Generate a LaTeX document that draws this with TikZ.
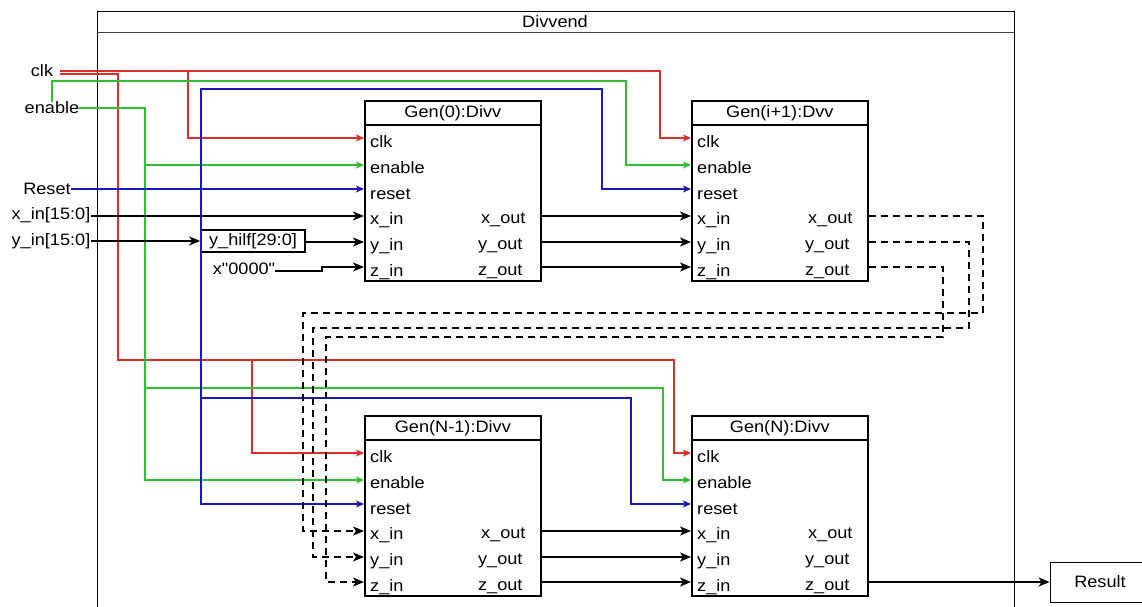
\documentclass[tikz,border=0pt]{standalone}
\usepackage{fontspec}
\setmainfont{Liberation Sans}[FakeStretch=1.1]
\newfontfamily\rawfont{Liberation Sans}[FakeStretch=1.1, Ligatures=TeXOff]
\usetikzlibrary{arrows.meta}
\definecolor{wred}{RGB}{220,45,45}
\definecolor{wgreen}{RGB}{50,190,50}
\definecolor{wblue}{RGB}{25,25,185}
\newcommand\genblock[4]{%
  \node[blk, minimum width=176pt, minimum height=180pt, anchor=north west, inner sep=0pt] (#1) at (#2,#3) {};
  \draw[line width=1.7pt] ([yshift=-25pt]#1.north west) -- ([yshift=-25pt]#1.north east);
  \node[txt] (#1t) at ([yshift=-13pt]#1.north) {#4};
  \coordinate (#1-clk) at ([yshift=-38pt]#1.north west);
  \coordinate (#1-en)  at ([yshift=-65pt]#1.north west);
  \coordinate (#1-rst) at ([yshift=-89pt]#1.north west);
  \coordinate (#1-xi)  at ([yshift=-116pt]#1.north west);
  \coordinate (#1-yi)  at ([yshift=-142pt]#1.north west);
  \coordinate (#1-zi)  at ([yshift=-167pt]#1.north west);
  \coordinate (#1-xo)  at ([yshift=-116pt]#1.north east);
  \coordinate (#1-yo)  at ([yshift=-142pt]#1.north east);
  \coordinate (#1-zo)  at ([yshift=-167pt]#1.north east);
  \node[txt, anchor=west] (#1l1) at ([shift={(6pt,-42pt)}]#1.north west) {clk};
  \node[txt, anchor=west] (#1l2) at ([shift={(6pt,-68pt)}]#1.north west) {enable};
  \node[txt, anchor=west] (#1l3) at ([shift={(6pt,-94pt)}]#1.north west) {reset};
  \node[txt, anchor=west] (#1l4) at ([shift={(6pt,-120pt)}]#1.north west) {x\_in};
  \node[txt, anchor=west] (#1l5) at ([shift={(6pt,-146pt)}]#1.north west) {y\_in};
  \node[txt, anchor=west] (#1l6) at ([shift={(6pt,-172pt)}]#1.north west) {z\_in};
  \node[txt, anchor=east] (#1r1) at ([shift={(-16pt,-120pt)}]#1.north east) {x\_out};
  \node[txt, anchor=east] (#1r2) at ([shift={(-19pt,-146pt)}]#1.north east) {y\_out};
  \node[txt, anchor=east] (#1r3) at ([shift={(-19pt,-172pt)}]#1.north east) {z\_out};
}
\begin{document}
\begin{tikzpicture}[x=1pt,y=-1pt,
  txt/.style={font=\fontsize{16.5}{19}\selectfont, inner sep=0pt},
  blk/.style={draw, line width=1.7pt},
  bus/.style={line width=1.9pt, -{Stealth[length=11pt,width=9pt,inset=3pt]}},
  sig/.style={line width=1.1pt, -{Stealth[length=8pt,width=7pt,inset=2pt]}},
  dbus/.style={bus, dash pattern=on 7pt off 5pt}]
\useasboundingbox (0,0) rectangle (1142,607);
\fill[white] (0,0) rectangle (1142,607);

% container
\draw[line width=0.8pt] (97,607) -- (97,11) -- (1014,11) -- (1014,607);
\draw[line width=1pt, black!75] (97,33) -- (1014,33);
\node[txt] (divv) at (555,22) {Divvend};

% blocks
\genblock{g0}{364}{100}{Gen(0):Divv}
\genblock{g1}{691}{100}{Gen(i+1):Dvv}
\genblock{gm}{364}{415}{Gen(N-1):Divv}
\genblock{gn}{691}{415}{Gen(N):Divv}

% input labels
\node[txt] (clk) at (42,71) {clk};
\node[txt] (en) at (52,108) {enable};
\node[txt] (rst) at (47,189) {Reset};
\node[txt] (xin) at (51,215) {x\_in[15:0]};
\node[txt] (yin) at (51,241) {y\_in[15:0]};
\node[txt] (zc) at (244,269) {\rawfont x"0000"};
\node[draw, line width=1.6pt, minimum width=104pt, minimum height=22pt, txt, inner sep=0pt] (yh) at (253,241) {y\_hilf[29:0]};
\node[draw, line width=0.9pt, minimum width=100pt, minimum height=40pt, txt] (res) at (1100,582) {Result};

% red (clk)
\draw[sig, wred] ([xshift=7pt]clk.east) -| ([xshift=-31pt]g1-clk) -- (g1-clk);
\draw[sig, wred] (188,71) |- (g0-clk);
\draw[sig, wred] ([shift={(7pt,-3pt)}]clk.east) -| (118,360) -| ([xshift=-17pt]gn-clk) -- (gn-clk);
\draw[sig, wred] (252,360) |- (gm-clk);

% green (enable)
\draw[sig, wgreen] (en.east) -| (145,165) -- (g0-en);
\draw[sig, wgreen] (145,165) |- (gm-en);
\draw[sig, wgreen] (145,388) -| ([xshift=-28pt]gn-en) -- (gn-en);
\draw[sig, wgreen] (en.north) -- (52,81) -| ([xshift=-65pt]g1-en) -- (g1-en);

% blue (reset)
\draw[sig, wblue] (rst.east) -- (g0-rst);
\draw[sig, wblue] (201,189) -- (201,89) -| ([xshift=-89pt]g1-rst) -- (g1-rst);
\draw[sig, wblue] (201,189) |- (gm-rst);
\draw[sig, wblue] (201,398) -| ([xshift=-60pt]gn-rst) -- (gn-rst);

% data inputs
\draw[bus] (xin.east |- g0-xi) -- (g0-xi);
\draw[bus] (yin.east |- yh.west) -- (yh.west);
\draw[bus] (yh.east |- g0-yi) -- (g0-yi);
\draw[bus] ([yshift=-2pt]zc.east) -- (322,271) -- (322,267) -- (g0-zi);

% stage connections
\draw[bus] (g0-xo) -- (g1-xi);
\draw[bus] (g0-yo) -- (g1-yi);
\draw[bus] (g0-zo) -- (g1-zi);
\draw[bus] (gm-xo) -- (gn-xi);
\draw[bus] (gm-yo) -- (gn-yi);
\draw[bus] (gm-zo) -- (gn-zi);

% dashed feedback
\draw[dbus] (g1-xo) -- (983,216) -- (983,313) -- (303,313) -- (303,531) -- (gm-xi);
\draw[dbus] (g1-yo) -- (969,242) -- (969,328) -- (313,328) -- (313,557) -- (gm-yi);
\draw[dbus] (g1-zo) -- (943,267) -- (943,337) -- (326,337) -- (326,582) -- (gm-zi);

% result
\draw[bus, line width=1.4pt] (gn-zo) -- (res.west |- gn-zo);
\end{tikzpicture}
\end{document}
